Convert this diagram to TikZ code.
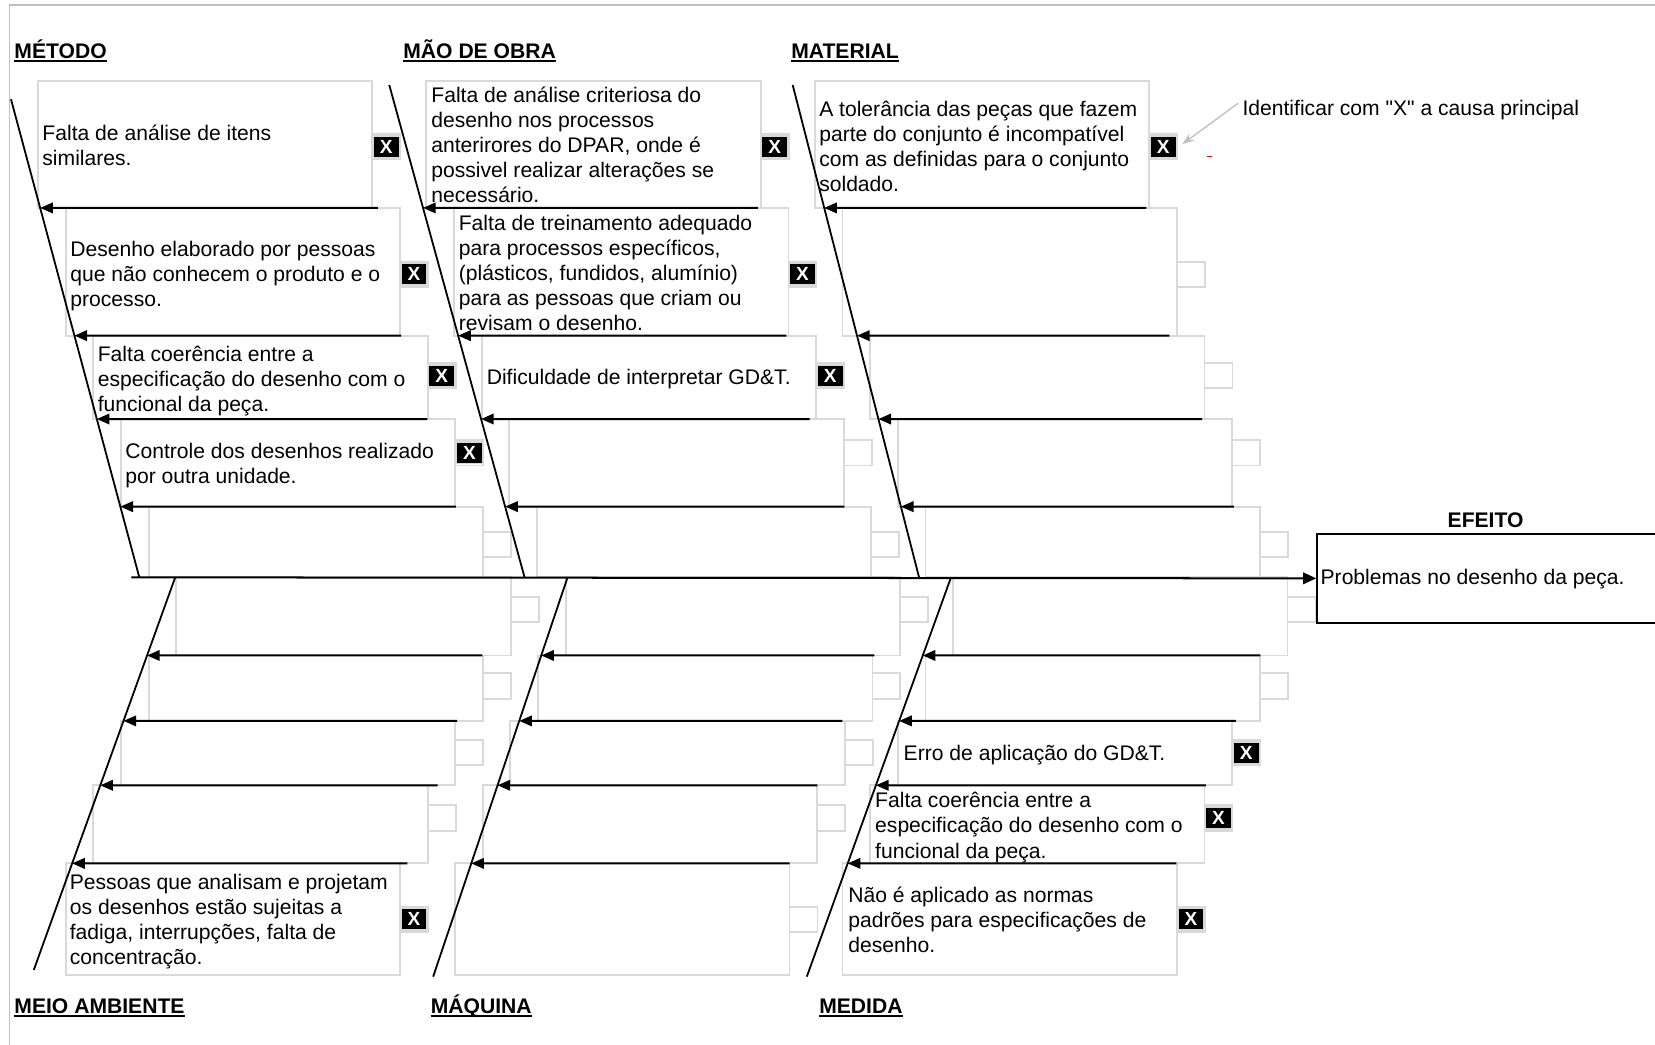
\documentclass[tikz,border=0pt]{standalone}
\usepackage{fontspec}
\setmainfont{Liberation Sans}
\newfontfamily\quotefont{Liberation Sans}[Ligatures=TeXOff]
\usetikzlibrary{arrows.meta,calc}
\definecolor{cellgray}{RGB}{217,217,217}
\definecolor{framegray}{RGB}{192,192,192}
\newcommand\causefont{\fontsize{20}{23.7}\selectfont}
\newcommand\causelines[1]{\parbox[t]{400pt}{\raggedright #1}}
\newcommand\dq{{\quotefont\char"22}}

\begin{document}
\begin{tikzpicture}[x=1pt, y=-1pt,
  causebox/.style={draw=cellgray, line width=1.8pt},
  bone/.style={line width=1.7pt},
  sub/.style={line width=1.9pt, -{Triangle[length=12pt,width=10pt]}},
  ctext/.style={anchor=base west, inner sep=0pt, font=\causefont},
  head/.style={anchor=base west, inner sep=0pt, font=\bfseries\fontsize{20}{24}\selectfont},
  uline/.style={line width=1.3pt},
  xmark/.style={fill=black, draw=cellgray, line width=1.5pt, minimum width=25pt,
    minimum height=20.5pt, inner sep=0pt, text=white, font=\bfseries\fontsize{18}{18}\selectfont},
  effbox/.style={draw=black, line width=1.9pt, minimum width=360pt, minimum height=84pt,
    inner sep=0pt, anchor=north west},
  spine/.style={line width=1.9pt, -{Triangle[length=12.5pt,width=11pt]}},
  notearrow/.style={draw=framegray, line width=1.3pt, -{Stealth[length=11pt,width=8pt]}}
]
\useasboundingbox (0,0) rectangle (1568,990);

% sheet frame (left and top edges)
\draw[framegray, line width=1.8pt] (1600,4.5) -- (9,4.5) -- (9,1010);

% category headings
\node[head] (hMet) at (13.5,55.3) {MÉTODO};
\node[head] (hMao) at (382,55.3) {MÃO DE OBRA};
\node[head] (hMat) at (749.5,55.3) {MATERIAL};
\node[head] (hMei) at (13.5,960) {MEIO AMBIENTE};
\node[head] (hMaq) at (408,960) {MÁQUINA};
\node[head] (hMed) at (776,960) {MEDIDA};
\foreach \h in {hMet,hMao,hMat,hMei,hMaq,hMed}
  \draw[uline] ([yshift=-2.5pt]\h.base west) -- ([yshift=-2.5pt]\h.base east);
\node[head, anchor=base] (hEfe) at (1407.5,500) {EFEITO};

% cause boxes above the spine, with their check cells
\foreach \r/\ya/\yb/\yc in {0/77/197/139, 1/197/318/260, 2/318/397/356, 3/397/480/429, 4/480/547/516}
  \foreach \L in {36,404,772} {
    \pgfmathsetmacro\bxa{\L+26.2*\r}
    \pgfmathsetmacro\bxb{\bxa+316.8}
    \draw[causebox] (\bxa,\ya) rectangle (\bxb,\yb);
    \draw[causebox] (\bxb,\yc-12) rectangle (\bxb+26.5,\yc+12);
  }
% cause boxes below the spine
\foreach \r/\ya/\yb/\yc in {0/547/621/577.5, 1/621/683/650, 2/683/744/713, 3/744/818/775, 4/818/924/871}
  \foreach \L in {167,536,903} {
    \pgfmathsetmacro\bxa{\L-26.2*\r}
    \pgfmathsetmacro\bxb{\bxa+316.8}
    \draw[causebox] (\bxa,\ya) rectangle (\bxb,\yb);
    \draw[causebox] (\bxb,\yc-12) rectangle (\bxb+26.5,\yc+12);
  }

% effect box
\node[effbox] (efeito) at (1247,505) {};
\node[ctext] (tEfe) at (1251,553.5) {Problemas no desenho da peça.};

% main bones
\coordinate (metT) at (10.4,94);    \coordinate (metB) at (132,547);
\coordinate (maoT) at (368.8,80.5); \coordinate (maoB) at (497,547);
\coordinate (matT) at (751,80.5);   \coordinate (matB) at (871,548);
\coordinate (meiT) at (166,547);    \coordinate (meiB) at (32,919);
\coordinate (maqT) at (537.7,547);  \coordinate (maqB) at (410.4,925.3);
\coordinate (medT) at (901,547);    \coordinate (medB) at (764.4,925.3);
\foreach \a/\b in {metT/metB, maoT/maoB, matT/matB, meiT/meiB, maqT/maqB, medT/medB}
  \draw[bone] (\a) -- (\b);

% spine
\coordinate (spineL) at (124.5,547);
\draw[spine] (spineL) -- (efeito.west);

% branch arrows onto the bones
\foreach \y/\xr in {197/358, 318/380, 397/405, 480/432}
  \draw[sub] (\xr,\y) -- ($(metT)!{(\y-94)/453}!(metB)$);
\foreach \y/\xr in {197/718, 318/745, 397/767, 480/800}
  \draw[sub] (\xr,\y) -- ($(maoT)!{(\y-80.5)/466.5}!(maoB)$);
\foreach \y/\xr in {197/1086, 318/1108, 397/1139, 480/1169}
  \draw[sub] (\xr,\y) -- ($(matT)!{(\y-80.5)/467.5}!(matB)$);
\foreach \y/\xr in {621/457, 683/433, 744/414.5, 818/386}
  \draw[sub] (\xr,\y) -- ($(meiT)!{(\y-547)/372}!(meiB)$);
\foreach \y/\xr in {621/828.5, 683/798, 744/774.5, 818/748}
  \draw[sub] (\xr,\y) -- ($(maqT)!{(\y-547)/378.3}!(maqB)$);
\foreach \y/\xr in {621/1194, 683/1171, 744/1142.5, 818/1114.5}
  \draw[sub] (\xr,\y) -- ($(medT)!{(\y-547)/378.3}!(medB)$);

% cause texts
\node[ctext] (tM1) at (40,133) {\causelines{Falta de análise de itens\\similares.}};
\node[ctext] (tM2) at (66.5,243) {\causelines{Desenho elaborado por pessoas\\que não conhecem o produto e o\\processo.}};
\node[ctext] (tM3) at (92.5,342.5) {\causelines{Falta coerência entre a\\especificação do desenho com o\\funcional da peça.}};
\node[ctext] (tM4) at (118.5,434.5) {\causelines{Controle dos desenhos realizado\\por outra unidade.}};
\node[ctext] (tO1) at (408.5,97.5) {\causelines{Falta de análise criteriosa do\\desenho nos processos\\anterirores do DPAR, onde é\\possivel realizar alterações se\\necessário.}};
\node[ctext] (tO2) at (434.5,218.5) {\causelines{Falta de treinamento adequado\\para processos específicos,\\(plásticos, fundidos, alumínio)\\para as pessoas que criam ou\\revisam o desenho.}};
\node[ctext] (tO3) at (461,364.5) {Dificuldade de interpretar GD\&T.};
\node[ctext] (tT1) at (776,110) {\causelines{A tolerância das peças que fazem\\parte do conjunto é incompatível\\com as definidas para o conjunto\\soldado.}};
\node[ctext] (tA5) at (66,843) {\causelines{Pessoas que analisam e projetam\\os desenhos estão sujeitas a\\fadiga, interrupções, falta de\\concentração.}};
\node[ctext] (tD3) at (856,720.5) {Erro de aplicação do GD\&T.};
\node[ctext] (tD4) at (829,765.5) {\causelines{Falta coerência entre a\\especificação do desenho com o\\funcional da peça.}};
\node[ctext] (tD5) at (803.5,855) {\causelines{Não é aplicado as normas\\padrões para especificações de\\desenho.}};

% main-cause marks
\node[xmark] (xM1) at (366,139) {X};
\node[xmark] (xM2) at (392.3,260) {X};
\node[xmark] (xM3) at (418.5,356) {X};
\node[xmark] (xM4) at (444.7,429) {X};
\node[xmark] (xO1) at (734,139) {X};
\node[xmark] (xO2) at (760.3,260) {X};
\node[xmark] (xO3) at (786.5,356) {X};
\node[xmark] (xT1) at (1102,139) {X};
\node[xmark] (xA5) at (392.3,871) {X};
\node[xmark] (xD3) at (1180.7,713) {X};
\node[xmark] (xD4) at (1154.5,775) {X};
\node[xmark] (xD5) at (1128.3,871) {X};

% instruction note
\node[ctext] (note) at (1177,109) {Identificar com \dq X\dq{} a causa principal};
\draw[notearrow] ([xshift=-4pt,yshift=6pt]note.west) -- ([xshift=5pt,yshift=2.5pt]xT1.east);
\draw[red, line width=0.8pt] (1144,148.5) -- (1148.5,148.5);
\end{tikzpicture}
\end{document}
